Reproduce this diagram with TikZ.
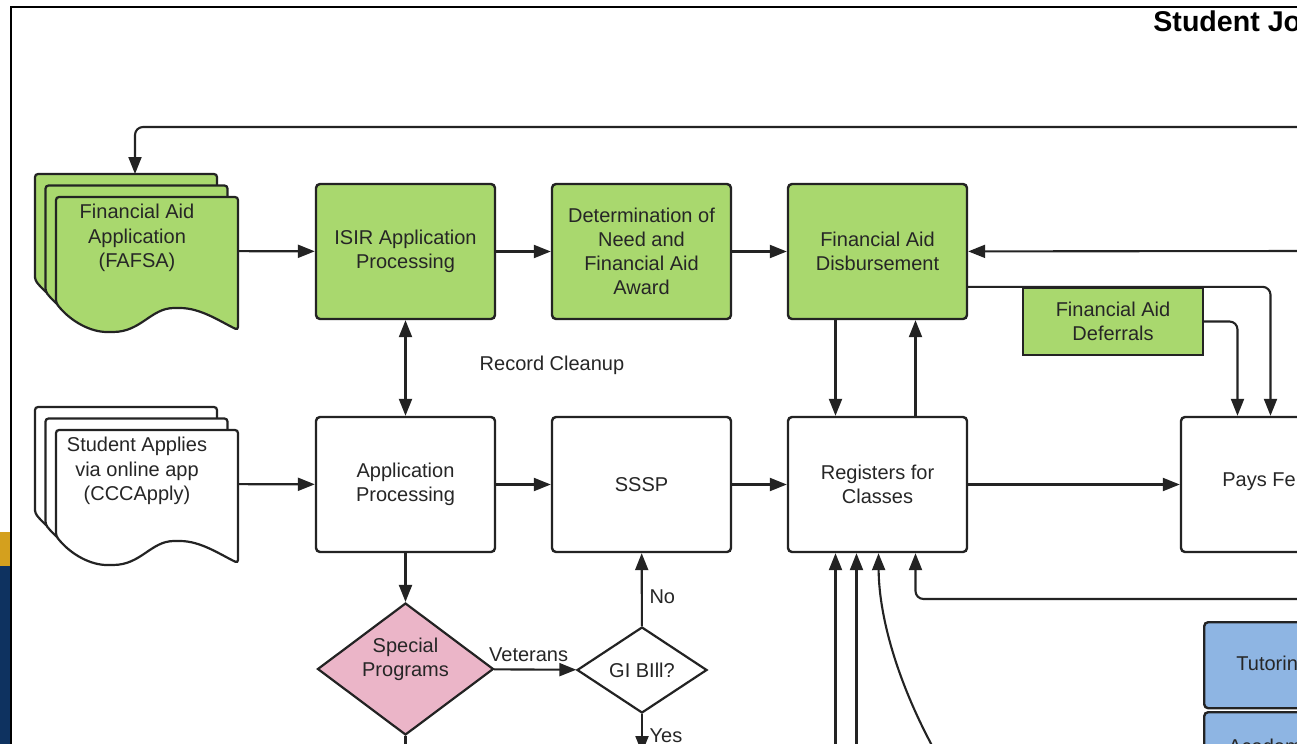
\documentclass[tikz,border=0pt]{standalone}
\usepackage{fontspec}
\setmainfont{Liberation Sans}
\usetikzlibrary{arrows.meta,shapes.geometric,calc}

\definecolor{aidgreen}{RGB}{169,216,110}
\definecolor{progpink}{RGB}{235,181,200}
\definecolor{supportblue}{RGB}{142,181,227}
\definecolor{linegrey}{RGB}{35,35,35}
\definecolor{bandgold}{RGB}{212,160,30}
\definecolor{bandnavy}{RGB}{14,50,96}

\tikzset{
  docfill/.store in=\docfill, docfill=white,
  docsheet/.pic={
    \draw[draw=linegrey, line width=1.1pt, fill=\docfill, rounded corners=1.5pt]
      (0,106) -- (0,0) -- (182,0) -- (182,133)
      .. controls (165,125) and (145,111) .. (121,111)
      .. controls (95,111) and (85,135) .. (54,135)
      .. controls (35,135) and (15,125) .. (0,106) -- cycle;
  },
  docstack/.pic={
    \pic at (-21,-23) {docsheet};
    \pic at (-10.5,-11.5) {docsheet};
    \pic at (0,0) {docsheet};
  },
}

\begin{document}
\begin{tikzpicture}[x=0.5pt, y=-0.5pt,
    font=\fontsize{10}{12.1}\selectfont,
    every node/.style={text=black!85, align=center},
    stepbox/.style={draw=linegrey, line width=1.2pt, rounded corners=2pt,
      minimum width=89.5pt, minimum height=67.5pt},
    aidbox/.style={stepbox, fill=aidgreen},
    choice/.style={diamond, draw=linegrey, line width=1.1pt, inner sep=0pt},
    arr/.style={draw=linegrey, line width=1.05pt, -{Triangle[length=8.5pt,width=6.5pt]}},
    dblarr/.style={arr, {Triangle[length=8.5pt,width=6.5pt]}-{Triangle[length=8.5pt,width=6.5pt]}},
    ]
  \useasboundingbox (0,0) rectangle (1297,744);
  \clip (0,0) rectangle (1297,744);
  %% page background and frame
  \fill[white] (0,0) rectangle (1297,744);
  \fill[bandgold] (0,532) rectangle (11,566);
  \fill[bandnavy] (0,566) rectangle (11,744);
  \draw[line width=1.25pt] (11,760) -- (11,7) -- (1310,7);
  \node[anchor=base west, inner sep=0pt, font=\fontsize{14.3}{16}\selectfont\bfseries, text=black] (title) at (1153,32) {Student Jo};

  %% documents
  \pic[docfill=aidgreen] at (56,197) {docstack};
  \node[minimum width=91pt, minimum height=54pt, inner sep=0pt] (fafsa) at (147,251) {};
  \node (fafsa-text) at (137,238) {Financial Aid\\Application\\(FAFSA)};
  \pic at (56,430) {docstack};
  \node[minimum width=91pt, minimum height=54pt, inner sep=0pt] (apply) at (147,484) {};
  \node (apply-text) at (137,471) {Student Applies\\via online app\\(CCCApply)};

  %% financial aid row
  \node[aidbox] (isir) at (405.5,251.5) {ISIR Application\\Processing};
  \node[aidbox] (determ) at (641.5,251.5) {Determination of\\Need and\\Financial Aid\\Award};
  \node[aidbox] (disb) at (877.5,251.5) {Financial Aid\\Disbursement};
  \node[draw=linegrey, line width=1.2pt, fill=aidgreen, minimum width=90pt, minimum height=33.5pt] (defer) at (1113,321.5) {Financial Aid\\Deferrals};
  \node (cleanup) at (552,365) {Record Cleanup};

  %% student row
  \node[stepbox] (appproc) at (405.5,484.5) {Application\\Processing};
  \node[stepbox] (sssp) at (641.5,484.5) {SSSP};
  \node[stepbox] (regs) at (877.5,484.5) {Registers for\\Classes};
  \node[stepbox] (pays) at (1270.5,484.5) {};
  \node[anchor=west, inner sep=0pt] (pays-text) at (1222,482) {Pays Fe};

  %% decisions
  \node[choice, fill=progpink, minimum width=88pt, minimum height=66pt] (special) at (405.5,669) {};
  \node (special-text) at (405.5,659) {Special\\Programs};
  \node[choice, fill=white, minimum width=65pt, minimum height=43pt] (gibill) at (642,670) {GI BIll?};

  %% support services
  \node[stepbox, fill=supportblue, minimum width=100pt, minimum height=43pt, anchor=north west] (tutor) at (1203,621) {};
  \node[anchor=west, inner sep=0pt] (tutor-text) at (1236,663) {Tutorin};
  \node[stepbox, fill=supportblue, minimum width=100pt, minimum height=43pt, anchor=north west] (academ) at (1203,711) {};
  \node[anchor=base west, inner sep=0pt] (academ-text) at (1228,753) {Academ};

  %% loose ends
  \coordinate (fafsa-feed) at (1310,127);
  \coordinate (fafsa-top) at (135,174);
  \coordinate (disb-feed) at (1310,251);
  \coordinate (regs-feed) at (1310,599);
  \coordinate (regs-in1) at (835.5,760);
  \coordinate (regs-in2) at (856.5,760);
  \coordinate (regs-in3) at (940,760);
  \coordinate (gibill-out) at (642,753);
  \coordinate (special-out) at (405.5,760);

  %% arrows
  \draw[arr, rounded corners=4pt] (fafsa-feed) -| (fafsa-top);
  \draw[arr] (fafsa) -- (isir);
  \draw[arr] (isir) -- (determ);
  \draw[arr] (determ) -- (disb);
  \draw[arr] (disb-feed) -- (disb);
  \draw[arr, rounded corners=4pt] (disb.east |- defer.north) -| (pays.north);
  \draw[arr, rounded corners=4pt] (defer.east) -| ($(pays.north)+(-33,0)$);
  \draw[arr] ($(disb.south)+(-42,0)$) -- ($(regs.north)+(-42,0)$);
  \draw[arr] ($(regs.north)+(38,0)$) -- ($(disb.south)+(38,0)$);
  \draw[dblarr] (isir) -- (appproc);
  \draw[arr] (apply) -- (appproc);
  \draw[arr] (appproc) -- (sssp);
  \draw[arr] (sssp) -- (regs);
  \draw[arr] (regs) -- (pays);
  \draw[arr, rounded corners=4pt] (regs-feed) -| ($(regs.south)+(38,0)$);
  \draw[arr] (regs-in1) -- ($(regs.south)+(-42,0)$);
  \draw[arr] (regs-in2) -- ($(regs.south)+(-21,0)$);
  \draw[arr] (regs-in3) .. controls (900,690) and (879,620) .. ($(regs.south)+(1,0)$);
  \draw[arr] (appproc) -- (special);
  \draw[arr] (special) -- node[above, pos=0.42] (veterans) {Veterans} (gibill);
  \draw[arr] (gibill) -- node[right, pos=0.4] (no) {No} (sssp);
  \draw[arr] (gibill) -- node[right, pos=0.56] (yes) {Yes} (gibill-out);
  \draw[draw=linegrey, line width=1.05pt] (special) -- (special-out);
\end{tikzpicture}
\end{document}
